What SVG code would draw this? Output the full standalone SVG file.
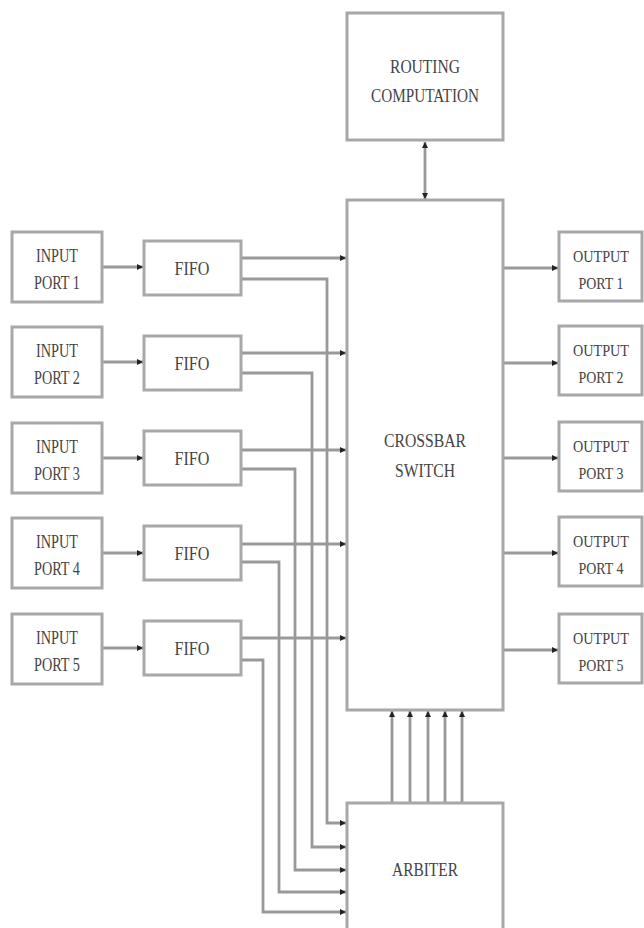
<svg xmlns="http://www.w3.org/2000/svg" width="644" height="928" viewBox="0 0 644 928">
<defs>
<style>
.box{fill:#fff;stroke:#a8a8a8;stroke-width:3}
.ln{fill:none;stroke:#999;stroke-width:2.8}
.t{font-family:"Liberation Serif","Times New Roman",serif;font-size:19px;fill:#444;text-anchor:middle}
.o{font-size:17px}
</style>
<marker id="ah" markerUnits="userSpaceOnUse" markerWidth="7" markerHeight="7" refX="6" refY="3.5" orient="auto">
<path d="M0,0.5 L6,3.5 L0,6.5 Z" fill="#222"/>
</marker>
<marker id="as" markerUnits="userSpaceOnUse" markerWidth="7" markerHeight="7" refX="0" refY="3.5" orient="auto">
<path d="M6,0.5 L0,3.5 L6,6.5 Z" fill="#222"/>
</marker>
</defs>
<rect width="644" height="928" fill="#fff"/>
<g id="connectors">
<line class="ln" x1="425" y1="142" x2="425" y2="199" marker-start="url(#as)" marker-end="url(#ah)"/>
<line class="ln" x1="102" y1="267" x2="143" y2="267" marker-end="url(#ah)"/>
<line class="ln" x1="102" y1="362" x2="143" y2="362" marker-end="url(#ah)"/>
<line class="ln" x1="102" y1="458" x2="143" y2="458" marker-end="url(#ah)"/>
<line class="ln" x1="102" y1="553" x2="143" y2="553" marker-end="url(#ah)"/>
<line class="ln" x1="102" y1="648" x2="143" y2="648" marker-end="url(#ah)"/>
<line class="ln" x1="241" y1="258" x2="346" y2="258" marker-end="url(#ah)"/>
<line class="ln" x1="241" y1="353" x2="346" y2="353" marker-end="url(#ah)"/>
<line class="ln" x1="241" y1="450" x2="346" y2="450" marker-end="url(#ah)"/>
<line class="ln" x1="241" y1="544" x2="346" y2="544" marker-end="url(#ah)"/>
<line class="ln" x1="241" y1="638" x2="346" y2="638" marker-end="url(#ah)"/>
<polyline class="ln" points="241,279 327,279 327,823 346,823" marker-end="url(#ah)"/>
<polyline class="ln" points="241,373 312,373 312,847 346,847" marker-end="url(#ah)"/>
<polyline class="ln" points="241,469 295,469 295,870 346,870" marker-end="url(#ah)"/>
<polyline class="ln" points="241,562 279,562 279,892 346,892" marker-end="url(#ah)"/>
<polyline class="ln" points="241,660 263,660 263,912 346,912" marker-end="url(#ah)"/>
<line class="ln" x1="503" y1="268" x2="558" y2="268" marker-end="url(#ah)"/>
<line class="ln" x1="503" y1="363" x2="558" y2="363" marker-end="url(#ah)"/>
<line class="ln" x1="503" y1="458" x2="558" y2="458" marker-end="url(#ah)"/>
<line class="ln" x1="503" y1="553" x2="558" y2="553" marker-end="url(#ah)"/>
<line class="ln" x1="503" y1="650" x2="558" y2="650" marker-end="url(#ah)"/>
<line class="ln" x1="392" y1="803" x2="392" y2="711" marker-end="url(#ah)"/>
<line class="ln" x1="410" y1="803" x2="410" y2="711" marker-end="url(#ah)"/>
<line class="ln" x1="428" y1="803" x2="428" y2="711" marker-end="url(#ah)"/>
<line class="ln" x1="445" y1="803" x2="445" y2="711" marker-end="url(#ah)"/>
<line class="ln" x1="462" y1="803" x2="462" y2="711" marker-end="url(#ah)"/>
</g>
<g id="routing"><rect class="box" x="347" y="13" width="156" height="127"/>
<text class="t" x="425" y="73" textLength="70" lengthAdjust="spacingAndGlyphs">ROUTING</text>
<text class="t" x="425" y="102" textLength="108" lengthAdjust="spacingAndGlyphs">COMPUTATION</text></g>
<g id="crossbar"><rect class="box" x="347" y="200" width="156" height="510"/>
<text class="t" x="425" y="447" textLength="82" lengthAdjust="spacingAndGlyphs">CROSSBAR</text>
<text class="t" x="425" y="477" textLength="60" lengthAdjust="spacingAndGlyphs">SWITCH</text></g>
<g id="arbiter"><rect class="box" x="347" y="803" width="156" height="130"/>
<text class="t" x="425" y="876" textLength="66" lengthAdjust="spacingAndGlyphs">ARBITER</text></g>
<g id="in1"><rect class="box" x="12" y="232" width="90" height="70"/><text class="t" x="57" y="262" textLength="42" lengthAdjust="spacingAndGlyphs">INPUT</text><text class="t" x="57" y="289" textLength="46" lengthAdjust="spacingAndGlyphs">PORT 1</text></g>
<g id="in2"><rect class="box" x="12" y="327" width="90" height="70"/><text class="t" x="57" y="357" textLength="42" lengthAdjust="spacingAndGlyphs">INPUT</text><text class="t" x="57" y="384" textLength="46" lengthAdjust="spacingAndGlyphs">PORT 2</text></g>
<g id="in3"><rect class="box" x="12" y="423" width="90" height="70"/><text class="t" x="57" y="453" textLength="42" lengthAdjust="spacingAndGlyphs">INPUT</text><text class="t" x="57" y="480" textLength="46" lengthAdjust="spacingAndGlyphs">PORT 3</text></g>
<g id="in4"><rect class="box" x="12" y="518" width="90" height="70"/><text class="t" x="57" y="548" textLength="42" lengthAdjust="spacingAndGlyphs">INPUT</text><text class="t" x="57" y="575" textLength="46" lengthAdjust="spacingAndGlyphs">PORT 4</text></g>
<g id="in5"><rect class="box" x="12" y="614" width="90" height="70"/><text class="t" x="57" y="644" textLength="42" lengthAdjust="spacingAndGlyphs">INPUT</text><text class="t" x="57" y="671" textLength="46" lengthAdjust="spacingAndGlyphs">PORT 5</text></g>
<g id="fifo1"><rect class="box" x="144" y="241" width="97" height="54"/><text class="t" x="192" y="275" textLength="35" lengthAdjust="spacingAndGlyphs">FIFO</text></g>
<g id="fifo2"><rect class="box" x="144" y="336" width="97" height="54"/><text class="t" x="192" y="370" textLength="35" lengthAdjust="spacingAndGlyphs">FIFO</text></g>
<g id="fifo3"><rect class="box" x="144" y="431" width="97" height="54"/><text class="t" x="192" y="465" textLength="35" lengthAdjust="spacingAndGlyphs">FIFO</text></g>
<g id="fifo4"><rect class="box" x="144" y="526" width="97" height="54"/><text class="t" x="192" y="560" textLength="35" lengthAdjust="spacingAndGlyphs">FIFO</text></g>
<g id="fifo5"><rect class="box" x="144" y="621" width="97" height="54"/><text class="t" x="192" y="655" textLength="35" lengthAdjust="spacingAndGlyphs">FIFO</text></g>
<g id="out1"><rect class="box" x="559" y="232" width="83" height="69"/><text class="t o" x="601" y="262" textLength="56" lengthAdjust="spacingAndGlyphs">OUTPUT</text><text class="t o" x="601" y="289" textLength="45" lengthAdjust="spacingAndGlyphs">PORT 1</text></g>
<g id="out2"><rect class="box" x="559" y="326" width="83" height="69"/><text class="t o" x="601" y="356" textLength="56" lengthAdjust="spacingAndGlyphs">OUTPUT</text><text class="t o" x="601" y="383" textLength="45" lengthAdjust="spacingAndGlyphs">PORT 2</text></g>
<g id="out3"><rect class="box" x="559" y="422" width="83" height="69"/><text class="t o" x="601" y="452" textLength="56" lengthAdjust="spacingAndGlyphs">OUTPUT</text><text class="t o" x="601" y="479" textLength="45" lengthAdjust="spacingAndGlyphs">PORT 3</text></g>
<g id="out4"><rect class="box" x="559" y="517" width="83" height="69"/><text class="t o" x="601" y="547" textLength="56" lengthAdjust="spacingAndGlyphs">OUTPUT</text><text class="t o" x="601" y="574" textLength="45" lengthAdjust="spacingAndGlyphs">PORT 4</text></g>
<g id="out5"><rect class="box" x="559" y="614" width="83" height="69"/><text class="t o" x="601" y="644" textLength="56" lengthAdjust="spacingAndGlyphs">OUTPUT</text><text class="t o" x="601" y="671" textLength="45" lengthAdjust="spacingAndGlyphs">PORT 5</text></g>
</svg>
